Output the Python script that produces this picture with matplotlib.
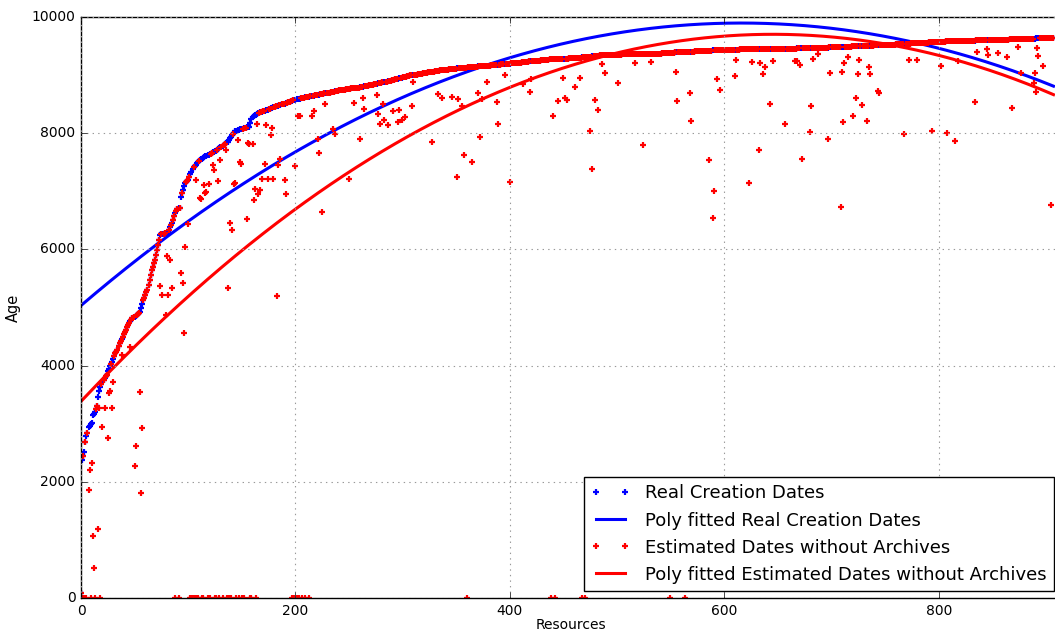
"""Age vs resources: real vs estimated creation dates, with quadratic fits."""
import numpy as np
import matplotlib

matplotlib.use("Agg")
import matplotlib.pyplot as plt  # noqa: E402

# real creation dates (age), one per resource, sorted
real_age = [
    80, 2380, 2450, 2520, 2690, 2780, 2840, 2940, 2960, 2990, 3010, 3150, 3170, 3200, 3260, 3300, 3460, 3560, 3630, 3680,
    3720, 3750, 3790, 3820, 3840, 3900, 3950, 3990, 4030, 4060, 4120, 4170, 4215, 4240, 4270, 4330, 4390, 4430, 4460, 4490,
    4540, 4580, 4620, 4660, 4700, 4730, 4760, 4790, 4820, 4830, 4845, 4860, 4870, 4885, 4900, 4920, 4990, 5060, 5130, 5170,
    5220, 5260, 5300, 5380, 5470, 5560, 5650, 5700, 5760, 5820, 5900, 5990, 6080, 6170, 6250, 6260, 6265, 6270, 6280, 6285,
    6290, 6300, 6340, 6380, 6420, 6450, 6510, 6570, 6630, 6660, 6690, 6710, 6720, 6900, 6970, 7030, 7090, 7140, 7160, 7175,
    7190, 7240, 7290, 7340, 7380, 7420, 7440, 7460, 7480, 7500, 7520, 7540, 7550, 7560, 7575, 7590, 7600, 7610, 7620, 7630,
    7640, 7650, 7660, 7670, 7680, 7690, 7700, 7715, 7730, 7745, 7760, 7770, 7785, 7800, 7815, 7830, 7845, 7850, 7880, 7910,
    7940, 7970, 7990, 8010, 8030, 8045, 8050, 8060, 8065, 8070, 8075, 8080, 8085, 8090, 8095, 8100, 8105, 8110, 8180, 8240,
    8280, 8295, 8310, 8320, 8330, 8340, 8350, 8360, 8365, 8370, 8375, 8385, 8390, 8400, 8405, 8410, 8420, 8430, 8440, 8445,
    8450, 8455, 8460, 8470, 8475, 8480, 8490, 8495, 8500, 8505, 8510, 8520, 8525, 8530, 8540, 8545, 8550, 8555, 8570, 8575,
    8580, 8585, 8585, 8590, 8595, 8600, 8600, 8605, 8610, 8615, 8620, 8620, 8625, 8630, 8635, 8640, 8640, 8645, 8650, 8655,
    8660, 8660, 8665, 8670, 8675, 8680, 8680, 8685, 8690, 8690, 8695, 8700, 8700, 8705, 8710, 8710, 8715, 8720, 8725, 8730,
    8730, 8735, 8740, 8740, 8745, 8750, 8750, 8755, 8760, 8760, 8765, 8765, 8770, 8770, 8775, 8775, 8780, 8780, 8785, 8785,
    8790, 8795, 8800, 8800, 8805, 8810, 8810, 8815, 8820, 8825, 8830, 8830, 8835, 8840, 8845, 8850, 8855, 8860, 8865, 8870,
    8870, 8875, 8880, 8880, 8885, 8885, 8890, 8895, 8900, 8905, 8910, 8915, 8920, 8925, 8930, 8935, 8940, 8945, 8950, 8955,
    8960, 8965, 8970, 8975, 8980, 8985, 8990, 8995, 9000, 9000, 9005, 9005, 9010, 9010, 9015, 9015, 9020, 9020, 9025, 9030,
    9030, 9035, 9040, 9040, 9045, 9050, 9050, 9055, 9060, 9060, 9065, 9070, 9070, 9075, 9075, 9080, 9080, 9085, 9085, 9090,
    9090, 9095, 9095, 9100, 9100, 9100, 9105, 9105, 9110, 9110, 9110, 9115, 9115, 9120, 9120, 9120, 9125, 9125, 9130, 9130,
    9130, 9135, 9135, 9135, 9140, 9140, 9140, 9145, 9145, 9145, 9150, 9150, 9150, 9155, 9155, 9155, 9160, 9160, 9160, 9165,
    9165, 9165, 9170, 9170, 9170, 9175, 9175, 9175, 9180, 9180, 9180, 9180, 9185, 9185, 9185, 9190, 9190, 9190, 9190, 9195,
    9195, 9200, 9200, 9200, 9205, 9205, 9210, 9210, 9210, 9215, 9215, 9220, 9220, 9220, 9225, 9225, 9230, 9230, 9235, 9235,
    9235, 9240, 9240, 9240, 9245, 9245, 9250, 9250, 9250, 9255, 9255, 9260, 9260, 9260, 9265, 9265, 9265, 9270, 9270, 9270,
    9270, 9275, 9275, 9275, 9275, 9280, 9280, 9280, 9280, 9280, 9285, 9285, 9285, 9285, 9285, 9290, 9290, 9290, 9290, 9290,
    9290, 9295, 9295, 9295, 9300, 9300, 9300, 9305, 9305, 9310, 9310, 9310, 9315, 9315, 9320, 9320, 9320, 9325, 9325, 9330,
    9330, 9330, 9335, 9335, 9340, 9340, 9340, 9340, 9345, 9345, 9345, 9345, 9345, 9350, 9350, 9350, 9350, 9350, 9350, 9350,
    9350, 9350, 9350, 9350, 9350, 9355, 9355, 9355, 9355, 9355, 9355, 9355, 9355, 9355, 9355, 9355, 9360, 9360, 9360, 9360,
    9360, 9360, 9360, 9360, 9360, 9360, 9360, 9360, 9360, 9360, 9365, 9365, 9365, 9365, 9365, 9365, 9365, 9370, 9370, 9370,
    9370, 9370, 9375, 9375, 9375, 9375, 9380, 9380, 9380, 9380, 9385, 9385, 9385, 9385, 9390, 9390, 9390, 9390, 9395, 9395,
    9395, 9395, 9395, 9400, 9400, 9400, 9400, 9400, 9400, 9405, 9405, 9405, 9405, 9410, 9410, 9410, 9410, 9410, 9415, 9415,
    9415, 9415, 9415, 9420, 9420, 9420, 9420, 9420, 9420, 9425, 9425, 9425, 9425, 9425, 9425, 9430, 9430, 9430, 9430, 9430,
    9430, 9430, 9435, 9435, 9435, 9435, 9435, 9435, 9440, 9440, 9440, 9440, 9440, 9440, 9440, 9445, 9445, 9445, 9445, 9445,
    9445, 9445, 9445, 9445, 9450, 9450, 9450, 9450, 9450, 9450, 9450, 9450, 9450, 9450, 9450, 9450, 9450, 9450, 9450, 9450,
    9450, 9450, 9450, 9450, 9450, 9450, 9450, 9450, 9450, 9450, 9455, 9455, 9455, 9455, 9455, 9455, 9455, 9455, 9455, 9455,
    9455, 9455, 9455, 9455, 9455, 9455, 9455, 9455, 9460, 9460, 9460, 9460, 9460, 9460, 9460, 9460, 9460, 9460, 9460, 9465,
    9465, 9465, 9465, 9465, 9465, 9465, 9470, 9470, 9470, 9470, 9470, 9470, 9475, 9475, 9475, 9475, 9475, 9475, 9480, 9480,
    9480, 9480, 9480, 9480, 9480, 9480, 9485, 9485, 9485, 9485, 9485, 9485, 9490, 9490, 9490, 9490, 9490, 9490, 9490, 9495,
    9495, 9495, 9495, 9495, 9495, 9495, 9500, 9500, 9500, 9500, 9500, 9500, 9500, 9500, 9505, 9505, 9505, 9505, 9505, 9505,
    9510, 9510, 9510, 9510, 9510, 9515, 9515, 9515, 9515, 9515, 9520, 9520, 9520, 9520, 9520, 9525, 9525, 9525, 9525, 9525,
    9530, 9530, 9530, 9530, 9530, 9530, 9535, 9535, 9535, 9535, 9540, 9540, 9540, 9540, 9545, 9545, 9545, 9545, 9550, 9550,
    9550, 9550, 9555, 9555, 9555, 9555, 9560, 9560, 9560, 9560, 9560, 9565, 9565, 9565, 9565, 9565, 9570, 9570, 9570, 9570,
    9570, 9570, 9575, 9575, 9575, 9575, 9575, 9580, 9580, 9580, 9580, 9580, 9580, 9585, 9585, 9585, 9585, 9585, 9590, 9590,
    9590, 9590, 9590, 9590, 9590, 9590, 9595, 9595, 9595, 9595, 9595, 9595, 9595, 9595, 9595, 9600, 9600, 9600, 9600, 9600,
    9600, 9600, 9600, 9600, 9600, 9600, 9600, 9605, 9605, 9605, 9605, 9605, 9605, 9605, 9605, 9605, 9610, 9610, 9610, 9610,
    9610, 9610, 9610, 9610, 9610, 9610, 9615, 9615, 9615, 9615, 9615, 9615, 9615, 9615, 9620, 9620, 9620, 9620, 9620, 9620,
    9620, 9620, 9620, 9625, 9625, 9625, 9625, 9625, 9625, 9625, 9625, 9630, 9630, 9630, 9630, 9630, 9630, 9630, 9630, 9635,
    9635, 9635, 9635, 9635, 9640, 9640, 9640, 9640,
]

# estimated dates (without archives): equal to the real date except at these resources
est_zero_idx = [
    1, 3, 5, 9, 13, 18, 88, 91, 102, 103, 104, 106, 108, 109, 113, 114, 118, 120, 125, 126,
    129, 132, 136, 138, 140, 145, 147, 150, 152, 158, 159, 163, 197, 199, 201, 203, 206, 209, 213, 360,
    438, 442, 467, 470, 549, 563,
]
est_off_idx = [
    7, 8, 10, 11, 12, 16, 17, 20, 22, 25, 26, 27, 29, 30, 38, 46, 50, 51, 55, 56,
    57, 74, 76, 79, 80, 81, 83, 85, 93, 95, 96, 97, 100, 107, 111, 112, 115, 116, 117, 119,
    123, 124, 128, 130, 135, 137, 139, 141, 143, 144, 146, 148, 149, 155, 156, 157, 160, 161, 162, 164,
    165, 167, 169, 172, 173, 174, 177, 178, 179, 183, 184, 186, 190, 191, 200, 202, 204, 215, 217, 221,
    222, 225, 228, 235, 237, 250, 255, 260, 263, 264, 276, 277, 279, 282, 283, 286, 291, 296, 297, 299,
    302, 309, 310, 327, 333, 337, 346, 351, 352, 355, 357, 365, 370, 372, 374, 379, 388, 389, 395, 400,
    412, 419, 420, 440, 445, 450, 451, 453, 461, 465, 475, 477, 479, 482, 486, 489, 501, 517, 524, 532,
    555, 556, 568, 569, 586, 589, 590, 593, 596, 610, 611, 623, 626, 632, 633, 636, 638, 643, 645, 657,
    666, 668, 671, 672, 680, 681, 683, 687, 697, 699, 709, 710, 711, 712, 715, 720, 723, 725, 726, 728,
    733, 735, 736, 743, 744, 768, 772, 780, 794, 802, 808, 815, 818, 834, 836, 845, 846, 855, 864, 868,
    874, 877, 889, 890, 891, 892, 893, 897, 905,
]
est_off_age = [
    1860, 2200, 2320, 1070, 520, 1190, 3270, 2940, 3270, 2750, 3530, 3560, 3270, 3720, 4180, 4320, 2270, 2620, 3550, 1810,
    2920, 5370, 5210, 4870, 5890, 5210, 5820, 5330, 5590, 5420, 4560, 6040, 6440, 7190, 6880, 6870, 7110, 6970, 6990, 7130,
    7450, 7370, 7170, 7540, 7710, 5330, 6450, 6330, 7130, 7140, 7880, 7500, 7470, 6520, 7830, 7810, 7810, 6850, 7040, 8160,
    6950, 7020, 7210, 7470, 8140, 7210, 7970, 8090, 7210, 5200, 7450, 7560, 7190, 6950, 7430, 8300, 8300, 8300, 8380, 7900,
    7660, 6640, 8500, 8070, 7990, 7210, 8520, 7900, 8610, 8420, 8660, 8330, 8160, 8500, 8230, 8140, 8380, 8190, 8400, 8230,
    8280, 8470, 8880, 7850, 8670, 8610, 8620, 7250, 8590, 8470, 7620, 7500, 8690, 7930, 8590, 8880, 8540, 8160, 9000, 7160,
    8850, 8710, 8930, 8300, 8550, 8950, 8610, 8570, 8800, 8950, 8040, 7380, 8570, 8400, 9190, 9040, 8860, 9210, 7800, 9230,
    9050, 8550, 8690, 8210, 7540, 6540, 7000, 8930, 8740, 8980, 9260, 7140, 9230, 7710, 9210, 9020, 9140, 8500, 9240, 8160,
    9240, 9240, 9170, 7560, 8020, 8470, 9280, 9360, 7900, 9040, 6730, 9050, 8190, 9210, 9310, 8300, 8610, 9020, 9260, 8490,
    8210, 9140, 9020, 8730, 8700, 7990, 9260, 9260, 8040, 9160, 8000, 7870, 9240, 8540, 9400, 9450, 9350, 9380, 9310, 8430,
    9480, 9040, 8860, 9040, 8710, 9470, 9330, 9160, 6760,
]

resources = np.arange(len(real_age))
real = np.array(real_age, dtype=float)
est = real.copy()
est[est_zero_idx] = 0
est[est_off_idx] = est_off_age

real_fit = np.polyval(np.polyfit(resources, real, 2), resources)
est_fit = np.polyval(np.polyfit(resources, est, 2), resources)

plt.style.use("classic")
plt.rcParams["font.family"] = "DejaVu Sans"

fig = plt.figure(figsize=(10.55, 6.32), dpi=100, facecolor="white")
ax = fig.add_axes([81 / 1055, 34 / 632, 980 / 1055, 581 / 632])

ax.plot(resources, real, "b+", ms=5, mew=1.6, label="Real Creation Dates")
ax.plot(resources, real_fit, "b-", lw=2.2, label="Poly fitted Real Creation Dates")
ax.plot(resources, est, "r+", ms=5, mew=1.6, label="Estimated Dates without Archives")
ax.plot(resources, est_fit, "r-", lw=2.2, label="Poly fitted Estimated Dates without Archives")

ax.set_xlim(0, 914)
ax.set_ylim(0, 10000)
ax.set_xticks([0, 200, 400, 600, 800])
ax.set_yticks([0, 2000, 4000, 6000, 8000, 10000])
ax.tick_params(labelsize=10)
ax.grid(True, color="0.6", linestyle=":", linewidth=0.8)
ax.set_xlabel("Resources", fontsize=10, labelpad=0)
ax.set_ylabel("Age", fontsize=10.5, labelpad=8)

leg = ax.legend(loc="lower right", fontsize=13, numpoints=2, fancybox=False,
                borderaxespad=0.4, handlelength=2.2)
leg.get_frame().set_edgecolor("black")

fig.savefig("out.png", dpi=100, facecolor="white")
